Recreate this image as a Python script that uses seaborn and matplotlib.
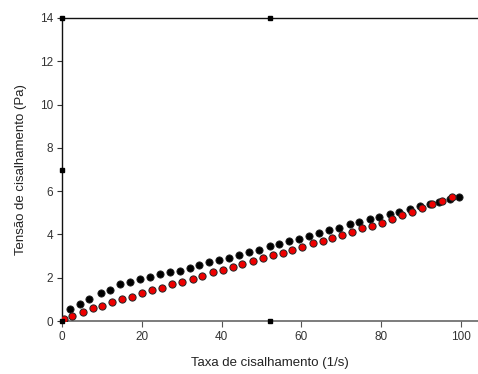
import matplotlib
matplotlib.use("Agg")
import matplotlib.pyplot as plt
import seaborn as sns
import pandas as pd

black_x = [2.1, 4.4, 6.8, 9.7, 12.0, 14.6, 17.0, 19.6, 22.1, 24.6, 27.1, 29.6, 32.1, 34.4,
           36.9, 39.4, 41.9, 44.4, 46.9, 49.4, 52.1, 54.4, 57.0, 59.4, 62.0, 64.5, 67.0, 69.4,
           72.2, 74.5, 77.2, 79.5, 82.2, 84.5, 87.2, 89.6, 92.2, 94.6, 97.2, 99.6]
black_y = [0.55, 0.80, 1.02, 1.28, 1.43, 1.69, 1.79, 1.93, 2.05, 2.16, 2.25, 2.33, 2.45, 2.57,
           2.71, 2.82, 2.90, 3.03, 3.17, 3.28, 3.45, 3.56, 3.70, 3.80, 3.94, 4.06, 4.19, 4.31,
           4.47, 4.59, 4.70, 4.79, 4.94, 5.04, 5.18, 5.31, 5.41, 5.50, 5.64, 5.74]
red_x = [0.5, 2.6, 5.3, 7.7, 10.1, 12.6, 15.1, 17.6, 20.1, 22.6, 25.1, 27.6, 30.1, 32.8,
         35.2, 37.8, 40.3, 42.9, 45.2, 47.8, 50.3, 52.9, 55.3, 57.6, 60.2, 62.9, 65.3, 67.7,
         70.3, 72.6, 75.3, 77.6, 80.3, 82.6, 85.3, 87.6, 90.2, 92.7, 95.3, 97.7]
red_y = [0.09, 0.25, 0.42, 0.59, 0.71, 0.86, 1.00, 1.12, 1.28, 1.43, 1.54, 1.69, 1.80, 1.96,
         2.06, 2.25, 2.37, 2.48, 2.63, 2.77, 2.90, 3.05, 3.16, 3.29, 3.43, 3.59, 3.70, 3.82,
         3.97, 4.13, 4.28, 4.40, 4.54, 4.71, 4.88, 5.04, 5.24, 5.39, 5.55, 5.74]

x_ticks = [0, 20, 40, 60, 80, 100]
y_ticks = [0, 2, 4, 6, 8, 10, 12, 14]
x_label = "Taxa de cisalhamento (1/s)"
y_label = "Tensão de cisalhamento (Pa)"

sns.set_theme(style="white")
plt.rcParams['font.family'] = ['Liberation Sans', 'DejaVu Sans']

fig = plt.figure(figsize=(4.78, 3.74), dpi=100)
ax = fig.add_axes([62/478, 53/374, 416/478, 303/374])

dfb = pd.DataFrame({"x": black_x, "y": black_y})
dfr = pd.DataFrame({"x": red_x, "y": red_y})
sns.scatterplot(data=dfb, x="x", y="y", ax=ax, color="black", edgecolor="#222222",
                s=27, linewidth=0.6, zorder=3)
sns.scatterplot(data=dfr, x="x", y="y", ax=ax, color="#ee0000", edgecolor="#222222",
                s=27, linewidth=0.7, zorder=4)

ax.set_xlim(0, 104.26)
ax.set_ylim(0, 14)
ax.set_xticks(x_ticks)
ax.set_yticks(y_ticks)
ax.set_xlabel(x_label, fontsize=9.5, color="#222222", labelpad=10)
ax.set_ylabel(y_label, fontsize=9.5, color="#222222", labelpad=9)
ax.tick_params(axis="both", direction="out", length=3.5, width=0.8, colors="#333333",
               labelsize=8.5, pad=3, bottom=True, left=True)
ax.tick_params(axis="x", colors="#555555", labelcolor="#333333", length=4)

for side in ["left", "top"]:
    ax.spines[side].set_color("#111111")
    ax.spines[side].set_linewidth(1.0)
ax.spines["bottom"].set_color("#666666")
ax.spines["bottom"].set_linewidth(1.2)
ax.spines["right"].set_visible(False)

# selection handles
for hx, hy in [(0, 1), (0.5, 1), (0, 0.5), (0, 0), (0.5, 0)]:
    ax.plot([hx], [hy], marker="s", markersize=3.5, color="black",
            transform=ax.transAxes, clip_on=False, zorder=5)

fig.savefig("out.png", dpi=100)
